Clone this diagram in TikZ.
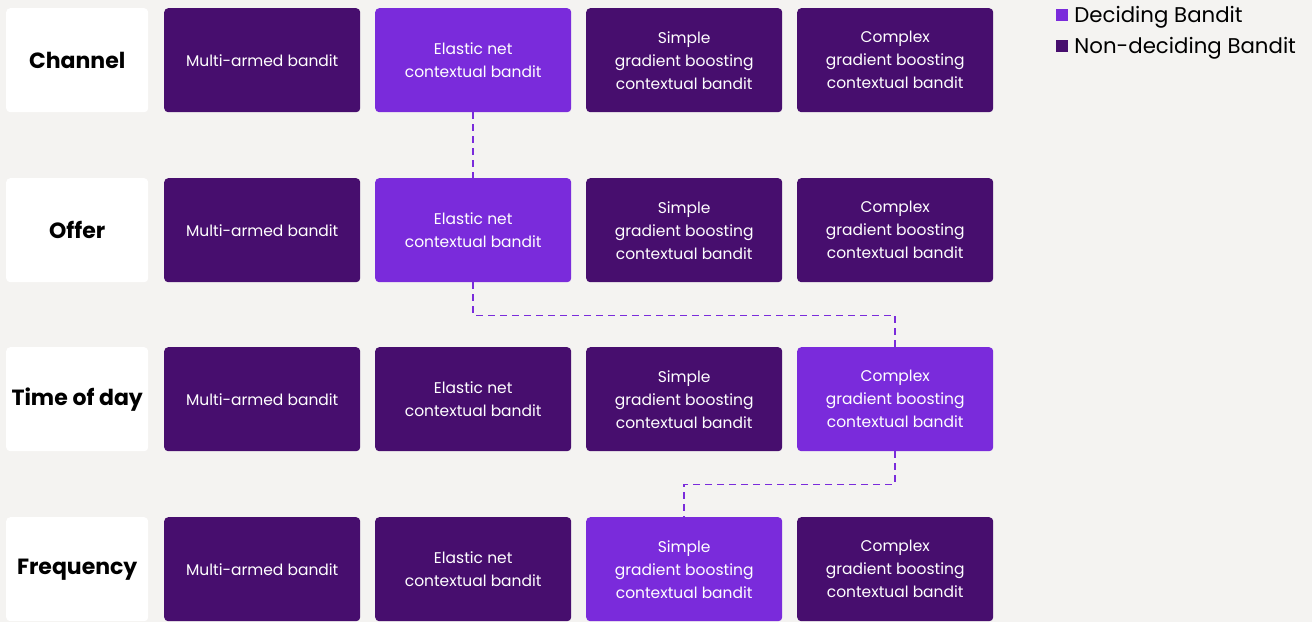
\documentclass[tikz,border=0pt]{standalone}
\usepackage{fontspec}
\setmainfont{Poppins}
\usetikzlibrary{positioning}
\definecolor{bgc}{HTML}{F4F3F1}
\definecolor{dark}{HTML}{470E6E}
\definecolor{lite}{HTML}{7A2BDB}
\tikzset{
  cell/.style={rounded corners=4pt, minimum width=196pt, minimum height=104pt,
    inner sep=0pt, text=white, align=center, font=\fontsize{15.5}{23}\selectfont, anchor=north west},
  nondec/.style={cell, fill=dark},
  dec/.style={cell, fill=lite},
  rowlabel/.style={rounded corners=4pt, fill=white, minimum width=142pt, minimum height=104pt,
    inner sep=0pt, anchor=north west, font=\fontsize{22}{24}\selectfont\bfseries},
  decpath/.style={draw=lite, line width=1.5pt, dash pattern=on 7pt off 5pt},
  legsq/.style={minimum size=12pt, inner sep=0pt},
  legtxt/.style={anchor=west, inner sep=0pt, yshift=-2pt, font=\fontsize{21.3}{24}\selectfont}
}
\begin{document}
\begin{tikzpicture}[x=1pt,y=-1pt]
\fill[bgc] (0,0) rectangle (1312,622);
\useasboundingbox (0,0) rectangle (1312,622);

% row labels
\node[rowlabel] (l1) at (6,8) {Channel};
\node[rowlabel] (l2) at (6,178) {Offer};
\node[rowlabel] (l3) at (6,347) {Time of day};
\node[rowlabel] (l4) at (6,517) {Frequency};

% row 1
\node[nondec] (a1) at (164,8) {Multi-armed bandit};
\node[dec]    (b1) at (375,8) {Elastic net\\contextual bandit};
\node[nondec] (c1) at (586,8) {Simple\\gradient boosting\\contextual bandit};
\node[nondec] (d1) at (797,8) {Complex\\gradient boosting\\contextual bandit};
% row 2
\node[nondec] (a2) at (164,178) {Multi-armed bandit};
\node[dec]    (b2) at (375,178) {Elastic net\\contextual bandit};
\node[nondec] (c2) at (586,178) {Simple\\gradient boosting\\contextual bandit};
\node[nondec] (d2) at (797,178) {Complex\\gradient boosting\\contextual bandit};
% row 3
\node[nondec] (a3) at (164,347) {Multi-armed bandit};
\node[nondec] (b3) at (375,347) {Elastic net\\contextual bandit};
\node[nondec] (c3) at (586,347) {Simple\\gradient boosting\\contextual bandit};
\node[dec]    (d3) at (797,347) {Complex\\gradient boosting\\contextual bandit};
% row 4
\node[nondec] (a4) at (164,517) {Multi-armed bandit};
\node[nondec] (b4) at (375,517) {Elastic net\\contextual bandit};
\node[dec]    (c4) at (586,517) {Simple\\gradient boosting\\contextual bandit};
\node[nondec] (d4) at (797,517) {Complex\\gradient boosting\\contextual bandit};

% decision path
\draw[decpath] (b1.south) -- (b2.north);
\draw[decpath] (b2.south) -- ++(0,33) -| (d3.north);
\draw[decpath] (d3.south) -- ++(0,33) -| (c4.north);

% legend
\node[legsq, fill=lite] (k1) at (1062,15) {};
\node[legtxt, right=6pt of k1] (t1) {Deciding Bandit};
\node[legsq, fill=dark] (k2) at (1062,46) {};
\node[legtxt, right=6pt of k2] (t2) {Non-deciding Bandit};
\end{tikzpicture}
\end{document}
